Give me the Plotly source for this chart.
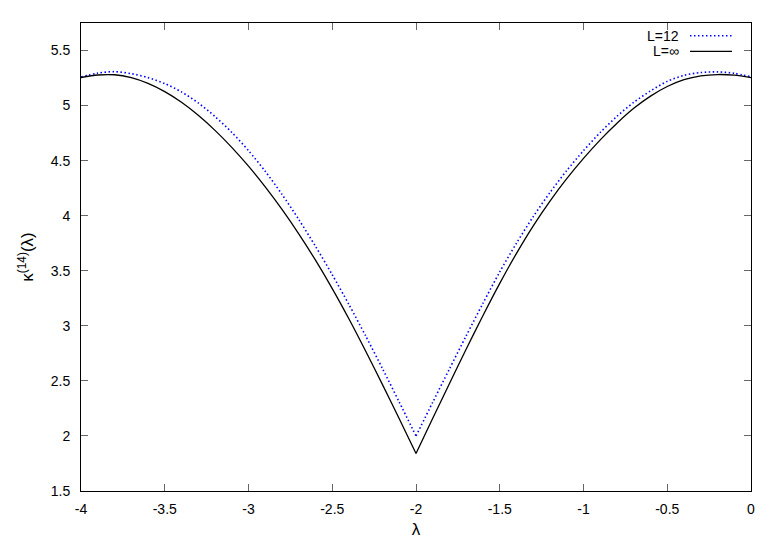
import plotly.graph_objects as go

# lambda grid shared by both curves (cusp at -2)
lam = [-4.0, -3.9, -3.8, -3.7, -3.6, -3.5, -3.4, -3.3, -3.2, -3.1, -3.0,
       -2.9, -2.8, -2.7, -2.6, -2.5, -2.4, -2.3, -2.2, -2.1, -2.0,
       -1.9, -1.8, -1.7, -1.6, -1.5, -1.4, -1.3, -1.2, -1.1, -1.0,
       -0.9, -0.8, -0.7, -0.6, -0.5, -0.4, -0.3, -0.2, -0.1, 0.0]

# L=12 (blue dotted)
kappa_L12 = [5.26, 5.295, 5.308, 5.29, 5.254, 5.20, 5.124, 5.024, 4.901, 4.757, 4.591,
             4.403, 4.194, 3.966, 3.722, 3.464, 3.192, 2.907, 2.611, 2.307, 2.0,
             2.306, 2.61, 2.91, 3.205, 3.49, 3.751, 3.992, 4.211, 4.41, 4.591,
             4.756, 4.903, 5.03, 5.133, 5.22, 5.275, 5.30, 5.306, 5.293, 5.262]

# L=inf (black solid)
kappa_Linf = [5.255, 5.278, 5.28, 5.254, 5.202, 5.127, 5.03, 4.912, 4.775, 4.621, 4.45,
              4.262, 4.057, 3.835, 3.596, 3.338, 3.062, 2.769, 2.466, 2.156, 1.84,
              2.16, 2.477, 2.789, 3.094, 3.386, 3.658, 3.908, 4.133, 4.336, 4.52,
              4.689, 4.84, 4.975, 5.086, 5.173, 5.235, 5.27, 5.282, 5.276, 5.254]

x_ticks = [-4, -3.5, -3, -2.5, -2, -1.5, -1, -0.5, 0]
x_ticktext = ['-4', '-3.5', '-3', '-2.5', '-2', '-1.5', '-1', '-0.5', '0']
y_ticks = [1.5, 2, 2.5, 3, 3.5, 4, 4.5, 5, 5.5]
y_ticktext = ['1.5', '2', '2.5', '3', '3.5', '4', '4.5', '5', '5.5']

font = 'Liberation Sans, Arial, sans-serif'
blue_line = dict(color='#0000ff', width=1.6, dash='1.5px,2.5px')
black_line = dict(color='black', width=1.3)

fig = go.Figure()
cusp = lam.index(-2.0)
# each curve drawn as two smooth branches meeting at the cusp
for ys, ls in [(kappa_L12, blue_line), (kappa_Linf, black_line)]:
    for sl in (slice(0, cusp + 1), slice(cusp, None)):
        fig.add_trace(go.Scatter(x=lam[sl], y=ys[sl], mode='lines',
                                 line=dict(shape='spline', smoothing=0.8, **ls)))

axis_style = dict(showline=True, linecolor='black', linewidth=1, mirror='ticks',
                  ticks='inside', ticklen=7, tickcolor='#666', tickwidth=1,
                  showgrid=False, zeroline=False,
                  tickfont=dict(family=font, size=14, color='black'))

fig.update_layout(
    width=771, height=540,
    margin=dict(l=73, r=28, t=15, b=48),
    plot_bgcolor='white', paper_bgcolor='white',
    showlegend=False,
    font=dict(family=font, size=14, color='black'),
    xaxis=dict(range=[-4, 0], tickvals=x_ticks, ticktext=x_ticktext,
               ticklabelstandoff=5, title=dict(text='λ', standoff=7), **axis_style),
    yaxis=dict(range=[1.5, 5.75], tickvals=y_ticks, ticktext=y_ticktext,
               ticklabelstandoff=7,
               title=dict(text='κ<sup>(14)</sup>(λ)', standoff=12), **axis_style),
)

# gnuplot-style key: text right-aligned, sample line to its right
key_rows = [('L=12', blue_line, 28), ('L=∞', black_line, 44)]
for label, ls, ypx in key_rows:
    yp = 1 - (ypx - 15) / 477
    fig.add_annotation(x=(673 - 73) / 670, y=yp, xref='paper', yref='paper',
                       text=label, showarrow=False, xanchor='right', yanchor='middle',
                       font=dict(family=font, size=14, color='black'))
    fig.add_shape(type='line', xref='paper', yref='paper',
                  x0=(682 - 73) / 670, x1=(724 - 73) / 670, y0=yp, y1=yp, line=ls)

fig.write_html('out.html')
